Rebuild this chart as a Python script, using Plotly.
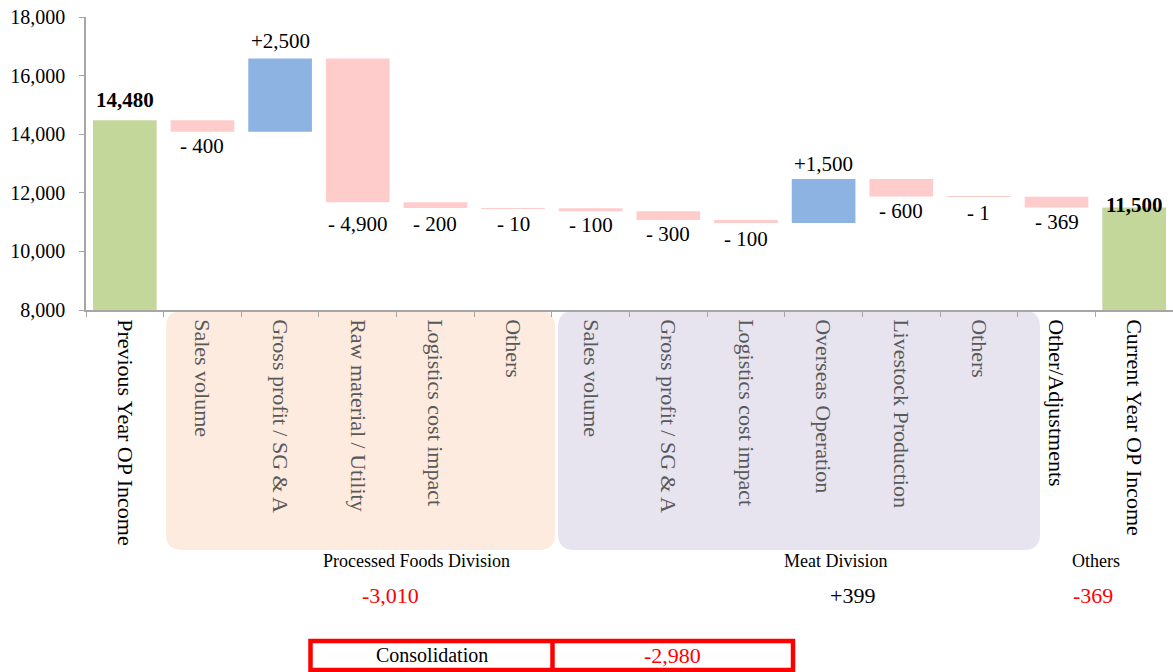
import plotly.graph_objects as go
import numpy as np

# ---------------- data ----------------
categories = ["Previous Year OP Income", "Sales volume", "Gross profit / SG & A",
              "Raw material / Utility", "Logistics cost impact", "Others",
              "Sales volume", "Gross profit / SG & A", "Logistics cost impact",
              "Overseas Operation", "Livestock Production", "Others",
              "Other/Adjustments", "Current Year OP Income"]
values = [14480, -400, 2500, -4900, -200, -10, -100, -300, -100, 1500, -600, -1, -369, 11500]
measures = ["absolute"] + ["relative"] * 12 + ["total"]
groups = ["total", "pf", "pf", "pf", "pf", "pf", "meat", "meat", "meat", "meat", "meat", "meat",
          "other", "total"]
division_names = ["Processed Foods Division", "Meat Division", "Others"]
division_keys = ["pf", "meat", "other"]
consolidation_label = "Consolidation"
y_tickvals = [8000, 10000, 12000, 14000, 16000, 18000]

# ---------------- styles ----------------
FONT = "Liberation Serif"
GREEN, BLUE, PINK = "#C4D79B", "#8DB3E2", "#FFCCCC"
PEACH, LAVENDER = "#FDEBDF", "#E7E4EF"
AXIS = "#A6A6A6"
GRAYTXT = "#595959"
RED = "#FF0000"

W, H = 1173, 672
ML, MR, MT, MB = 86, 0, 17, 362
PW, PH = W - ML - MR, H - MT - MB


def px(x):
    return (x - ML) / PW


def py(y):
    return (H - MB - y) / PH


ids = [f"c{i}" for i in range(len(categories))]
ticktext = [c if g in ("total", "other") else f'<span style="color:{GRAYTXT}">{c}</span>'
            for c, g in zip(categories, groups)]

fig = go.Figure(go.Waterfall(
    x=ids, y=values, measure=measures,
    increasing=dict(marker=dict(color=BLUE)),
    decreasing=dict(marker=dict(color=PINK)),
    totals=dict(marker=dict(color=GREEN)),
    connector=dict(visible=False),
    hoverinfo="skip",
))

# data labels
vals = np.array(values)
ends = np.cumsum(vals)
ends[-1] = vals[-1]
starts = np.concatenate([[0], ends[:-1]])
starts[-1] = 0
label_shift = [20, -14, 18, -22, -16, -16, -14, -14, -16, 15, -14, -16, -15, 2]
annotations = []
for i, (v, m) in enumerate(zip(values, measures)):
    if m != "relative":
        txt = f"<b>{v:,}</b>"
        yv = v
    elif v < 0:
        txt = f"- {abs(v):,}"
        yv = min(starts[i], ends[i])
    else:
        txt = f"+{v:,}"
        yv = max(starts[i], ends[i])
    annotations.append(dict(x=ids[i], y=yv, xref="x", yref="y", text=txt, showarrow=False,
                            yanchor="middle", yshift=label_shift[i],
                            font=dict(family=FONT, size=21, color="#000000")))

# division labels and sums
div_name_pos = [(416, 561), (836, 561), (1096, 561)]
div_sum_pos = [(390, 595), (852, 595), (1093, 595)]
for name, key, (nx, ny), (sx, sy) in zip(division_names, division_keys, div_name_pos, div_sum_pos):
    s = int(sum(v for v, g in zip(values, groups) if g == key))
    annotations.append(dict(x=px(nx), y=py(ny), xref="paper", yref="paper", text=name,
                            showarrow=False, xanchor="center", yanchor="middle",
                            font=dict(family=FONT, size=18, color="#000000")))
    annotations.append(dict(x=px(sx), y=py(sy), xref="paper", yref="paper", text=f"{s:+,}",
                            showarrow=False, xanchor="center", yanchor="middle",
                            font=dict(family=FONT, size=22, color=RED if s < 0 else "#000000")))

consolidated = values[-1] - values[0]
annotations.append(dict(x=px(432), y=py(655), xref="paper", yref="paper", text=consolidation_label,
                        showarrow=False, xanchor="center", yanchor="middle",
                        font=dict(family=FONT, size=20, color="#000000")))
annotations.append(dict(x=px(672), y=py(655), xref="paper", yref="paper", text=f"{consolidated:+,}",
                        showarrow=False, xanchor="center", yanchor="middle",
                        font=dict(family=FONT, size=22, color=RED)))


def rounded_rect(x0, y0, x1, y1, r):
    # pixel coords -> paper path
    pts = [
        f"M {px(x0 + r)},{py(y0)}",
        f"L {px(x1 - r)},{py(y0)}",
        f"Q {px(x1)},{py(y0)} {px(x1)},{py(y0 + r)}",
        f"L {px(x1)},{py(y1 - r)}",
        f"Q {px(x1)},{py(y1)} {px(x1 - r)},{py(y1)}",
        f"L {px(x0 + r)},{py(y1)}",
        f"Q {px(x0)},{py(y1)} {px(x0)},{py(y1 - r)}",
        f"L {px(x0)},{py(y0 + r)}",
        f"Q {px(x0)},{py(y0)} {px(x0 + r)},{py(y0)}",
        "Z",
    ]
    return " ".join(pts)


shapes = [
    dict(type="path", xref="paper", yref="paper", path=rounded_rect(166, 311, 555, 550, 16),
         fillcolor=PEACH, line=dict(width=0), layer="below"),
    dict(type="path", xref="paper", yref="paper", path=rounded_rect(558, 311, 1040, 550, 16),
         fillcolor=LAVENDER, line=dict(width=0), layer="below"),
    dict(type="rect", xref="paper", yref="paper", x0=px(310.5), x1=px(793), y0=py(641), y1=py(670),
         line=dict(color=RED, width=4.5), fillcolor="rgba(0,0,0,0)"),
    dict(type="line", xref="paper", yref="paper", x0=px(552.5), x1=px(552.5), y0=py(641), y1=py(670),
         line=dict(color=RED, width=4.5)),
]

fig.update_layout(
    width=W, height=H,
    margin=dict(l=ML, r=MR, t=MT, b=MB, pad=0),
    paper_bgcolor="white", plot_bgcolor="white",
    showlegend=False,
    waterfallgap=0.18,
    font=dict(family=FONT, color="#000000"),
    annotations=annotations,
    shapes=shapes,
    xaxis=dict(type="category", categoryorder="array", categoryarray=ids,
               range=[-0.5, len(ids) - 0.5],
               tickmode="array", tickvals=ids, ticktext=ticktext,
               tickson="boundaries", ticks="outside", ticklen=5, tickcolor=AXIS,
               tickangle=90, ticklabelstandoff=3,
               tickfont=dict(family=FONT, size=22, color="#000000"),
               showline=True, linecolor=AXIS, linewidth=1.5, showgrid=False, zeroline=False,
               fixedrange=True),
    yaxis=dict(range=[8000, 18000], tickmode="array", tickvals=y_tickvals, tickformat=",",
               ticks="outside", ticklen=5, tickcolor=AXIS, ticklabelstandoff=10,
               tickfont=dict(family=FONT, size=20, color="#000000"),
               showline=True, linecolor=AXIS, linewidth=1.5, showgrid=False, zeroline=False,
               fixedrange=True),
)

fig.write_html("out.html")
